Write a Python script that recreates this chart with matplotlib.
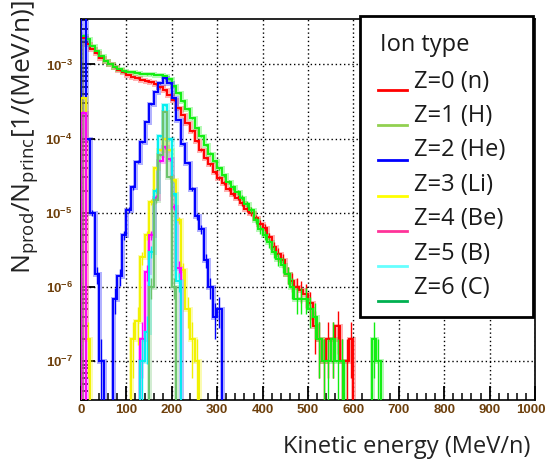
import numpy as np
import matplotlib
matplotlib.use("Agg")
import matplotlib.pyplot as plt
from matplotlib.patches import Rectangle
from matplotlib.lines import Line2D
from matplotlib.transforms import ScaledTranslation
from matplotlib.ticker import MultipleLocator, LogLocator, FixedLocator, FuncFormatter, NullFormatter

plt.rcParams['mathtext.fontset'] = 'custom'
plt.rcParams['mathtext.rm'] = 'Liberation Sans'
plt.rcParams['mathtext.bf'] = 'Liberation Sans:bold'

# ---------------- data (10 MeV/n bins, values per bin, starting energy) ----------------
bin_width = 10
n_start = 0
n_vals = [2.29e-3, 1.91e-3, 1.62e-3, 1.41e-3, 1.23e-3, 1.12e-3, 1.02e-3, 9.1e-4, 8.3e-4, 7.8e-4,
          7.2e-4, 6.8e-4, 6.5e-4, 6.2e-4, 5.9e-4, 5.75e-4, 5.4e-4, 4.9e-4, 4.5e-4, 3.9e-4,
          3.3e-4, 2.6e-4, 2.1e-4, 1.62e-4, 1.26e-4, 9.3e-5, 7.1e-5, 5.5e-5, 4.5e-5, 3.5e-5,
          2.95e-5, 2.5e-5, 2.1e-5, 1.8e-5, 1.6e-5, 1.35e-5, 1.12e-5, 1.0e-5, 8.5e-6, 7.1e-6,
          6.2e-6, 4.7e-6, 3.5e-6, 2.8e-6, 2.3e-6, 1.5e-6, 1.2e-6, 1.0e-6, 9e-7, 8e-7,
          6e-7, 3e-7, 2e-7, 1e-7, 2e-7, 2e-7, 3e-7, 1e-7, 1e-7, 2e-7]
h_start = 0
h_vals = [2.4e-3, 2.19e-3, 1.78e-3, 1.51e-3, 1.29e-3, 1.12e-3, 1.02e-3, 9.3e-4, 8.7e-4, 8.1e-4,
          7.9e-4, 7.8e-4, 7.6e-4, 7.5e-4, 7.4e-4, 7.4e-4, 7.3e-4, 7.2e-4, 6.9e-4, 6.3e-4,
          5.1e-4, 4.1e-4, 3.2e-4, 2.5e-4, 1.9e-4, 1.41e-4, 1.07e-4, 8.3e-5, 6.3e-5, 5.0e-5,
          4.0e-5, 3.2e-5, 2.6e-5, 2.2e-5, 1.9e-5, 1.6e-5, 1.32e-5, 1.1e-5, 7.9e-6, 6.0e-6,
          5.0e-6, 4.0e-6, 3.0e-6, 2.4e-6, 2.0e-6, 1.5e-6, 1.0e-6, 7e-7, 7e-7, 7e-7,
          5e-7, 4e-7, 2e-7, 1e-7, 1e-7, 2e-7, 1e-7, 1e-7, 0, 0,
          0, 0, 0, 0, 2e-7, 1e-7]
he_start = 0
he_vals = [6e-3, 1e-4, 1e-5, 1.5e-6, 1e-7, 0, 0, 7e-7, 1.4e-6, 5e-6,
           1.1e-5, 2.2e-5, 4.9e-5, 9e-5, 1.7e-4, 2.9e-4, 4.3e-4, 5.6e-4, 6.5e-4, 5.6e-4,
           3.5e-4, 1.8e-4, 8.5e-5, 4.7e-5, 2.1e-5, 9e-6, 6e-6, 2.3e-6, 1e-6, 4e-7, 5e-7]
li_start = 0
li_vals = [3.5e-4, 2e-7, 0, 0, 0, 0, 0, 0, 0, 0,
           0, 2e-7, 3.5e-7, 2.5e-6, 5e-6, 1.4e-5, 4e-5, 7e-5, 1.0e-4, 7e-5,
           2.8e-5, 8e-6, 1.7e-6, 5e-7, 2e-7, 1e-7]
be_start = 0
be_vals = [2.2e-4, 0, 0, 0, 0, 0, 0, 0, 0, 0,
           0, 0, 0, 2e-7, 1.6e-6, 5e-6, 1.6e-5, 5e-5, 7.6e-5, 5.3e-5,
           1.2e-5, 1.8e-6]
b_start = 130
b_vals = [1e-7, 2.5e-7, 3e-6, 2e-5, 1.07e-4, 2.8e-4, 1.0e-4, 1.8e-5, 1.2e-6]
c_start = 150
c_vals = [1e-6, 1.5e-5, 6e-5, 2.3e-4, 3e-5, 1e-6]

labels = ['Z=0 (n)', 'Z=1 (H)', 'Z=2 (He)', 'Z=3 (Li)', 'Z=4 (Be)', 'Z=5 (B)', 'Z=6 (C)']
series = [(n_start, n_vals), (h_start, h_vals), (he_start, he_vals), (li_start, li_vals),
          (be_start, be_vals), (b_start, b_vals), (c_start, c_vals)]
line_colors = ['#ff0000', '#11ee11', '#0000ff', '#f2f200', '#ff00ff', '#00f0f0', '#6cc36c']
legend_colors = ['#ff0000', '#92d050', '#0000ff', '#ffff00', '#ff3399', '#66ffff', '#00b050']
count_unit = 1e-7

x_ticks = list(range(0, 1001, 100))
y_decades = [-7, -6, -5, -4, -3]

# ---------------- figure ----------------
W, H = 547, 459
fig = plt.figure(figsize=(W / 100, H / 100), dpi=100)
ax = fig.add_axes([81 / W, 1 - 400 / H, (535 - 81) / W, (400 - 19) / H])
ax.set_yscale('log', nonpositive='clip')
ax.set_xlim(0, 1000)
ax.set_ylim(3.0e-8, 4.1e-3)

ax.grid(True, which='major', color='black', linestyle=(0, (1, 2)), linewidth=1.0)
ax.set_axisbelow(True)

nb = 100
edges = np.arange(0, nb * bin_width + 1, bin_width)
centers = edges[:-1] + bin_width / 2
for (start, vals), col in zip(series, line_colors):
    arr = np.zeros(nb)
    i0 = start // bin_width
    arr[i0:i0 + len(vals)] = vals
    ax.stairs(arr, edges, baseline=0, color=col, lw=3.6, alpha=0.3, zorder=2)
    ax.stairs(arr, edges, baseline=0, color=col, lw=1.4, zorder=3)
    m = arr > 0
    err = np.sqrt(arr[m] * count_unit)
    ax.vlines(centers[m], arr[m] - err, arr[m] + err, color=col, lw=1.0, zorder=3)

# ticks
ax.xaxis.set_major_locator(FixedLocator(x_ticks))
ax.xaxis.set_minor_locator(MultipleLocator(20))
ax.yaxis.set_major_locator(FixedLocator([10.0 ** d for d in y_decades]))
ax.yaxis.set_minor_locator(LogLocator(base=10, subs=np.arange(2, 10), numticks=20))
ax.yaxis.set_minor_formatter(NullFormatter())
ax.yaxis.set_major_formatter(FuncFormatter(lambda v, p: r'$\mathbf{10^{%d}}$' % int(round(np.log10(v)))))
tick_color = '#6e400c'
ax.tick_params(which='major', direction='in', length=10, width=1.3, top=False, right=False,
               labelsize=9.5, labelcolor=tick_color)
ax.tick_params(which='minor', direction='in', length=5, width=1.1, top=False, right=False)
ax.tick_params(axis='x', pad=3)
ax.tick_params(axis='y', pad=6)
for lab in ax.get_xticklabels():
    lab.set_fontfamily('Liberation Sans')
    lab.set_fontweight('bold')
    lab.set_fontsize(9.5)
last = ax.xaxis.get_major_ticks()[-1].label1
last.set_transform(last.get_transform() + ScaledTranslation(-4 / 100, 0, fig.dpi_scale_trans))
for sp in ax.spines.values():
    sp.set_linewidth(1.2)

# axis labels
ax.set_xlabel('Kinetic energy (MeV/n)', fontsize=17, fontfamily='Open Sans', color='#222222', va='center')
ax.xaxis.set_label_coords((407 - 81) / (535 - 81), (400 - 447) / (400 - 19))
ax.set_ylabel(r'$\mathregular{N_{prod}/N_{princ}[1/(MeV/n)]}$', fontsize=19, fontfamily='Open Sans',
              color='#222222', va='center')
ax.yaxis.set_label_coords((25 - 81) / (535 - 81), (400 - 137) / (400 - 19))

# legend box (drawn in figure pixels)
fx = lambda px: px / W
fy = lambda py: 1 - py / H
fig.add_artist(Rectangle((fx(360), fy(317)), (533 - 360) / W, (317 - 16) / H, transform=fig.transFigure,
                         facecolor='white', edgecolor='black', linewidth=2, zorder=10))
fig.text(fx(380), fy(45), 'Ion type', fontsize=17, fontfamily='Open Sans', color='#1a1a1a',
         va='center', ha='left', zorder=11)
for i, (lab, col) in enumerate(zip(labels, legend_colors)):
    fig.text(fx(414), fy(81.5 + 34.5 * i), lab, fontsize=17, fontfamily='Open Sans', color='#1a1a1a',
             va='center', ha='left', zorder=11)
    yl = fy(90 + 35.2 * i)
    fig.add_artist(Line2D([fx(378), fx(407)], [yl, yl], transform=fig.transFigure, color=col,
                          lw=2.0, zorder=11))

fig.savefig('out.png', dpi=100)
